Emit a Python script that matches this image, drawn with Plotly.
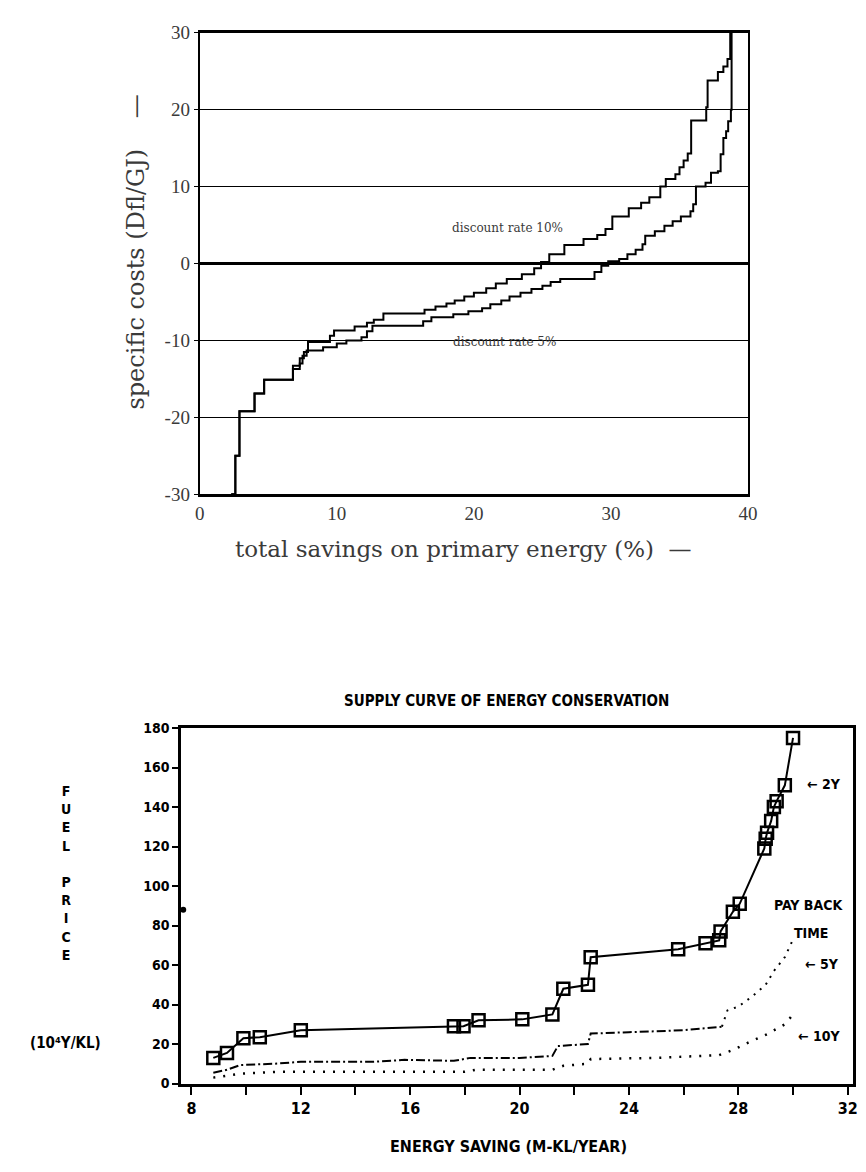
import plotly.graph_objects as go

W, H = 866, 1172
OFF = 8  # default page margin of the html body

# ---------------- top chart data ----------------
save_10 = [2.3, 2.6, 2.9, 4.0, 4.7, 6.8, 7.3, 7.6, 7.9, 9.5, 9.8, 11.3, 12.2, 12.7, 13.4,
           16.4, 17.2, 18.0, 18.6, 19.3, 20.0, 20.9, 21.6, 22.4, 23.5, 24.4, 24.9, 25.5, 26.6,
           28.0, 29.0, 29.6, 30.1, 31.3, 32.2, 32.8, 33.6, 34.0, 34.7, 35.0, 35.3, 35.6, 35.85,
           36.95, 37.05, 37.8, 38.2, 38.5, 38.7]
cost_10 = [-30, -25, -19.2, -16.9, -15.1, -13.3, -12.3, -11.5, -10.2, -9.4, -8.7, -8.2, -7.7,
           -7.3, -6.5, -6.0, -5.6, -5.2, -4.8, -4.3, -3.8, -3.2, -2.6, -2.0, -1.4, -0.6, 0.2, 1.2,
           2.4, 3.2, 3.7, 4.5, 6.1, 7.2, 7.9, 8.6, 10.0, 11.0, 11.6, 12.5, 13.4, 14.3, 18.6, 20.3,
           23.8, 24.9, 25.6, 26.6, 30.0]

save_5 = [2.3, 2.6, 2.9, 4.0, 4.7, 6.8, 7.3, 7.5, 7.8, 9.0, 10.0, 10.7, 11.8, 12.2, 12.6,
          16.3, 16.9, 18.5, 19.6, 20.6, 21.2, 22.0, 22.6, 23.4, 24.2, 25.0, 25.6, 26.3, 28.8,
          29.3, 29.8, 30.6, 31.2, 31.8, 32.3, 32.5, 33.2, 33.9, 34.5, 35.1, 35.8, 36.0, 36.2,
          36.9, 37.3, 37.8, 38.0, 38.2, 38.4, 38.55, 38.75, 38.8]
cost_5 = [-30, -25, -19.2, -16.9, -15.1, -13.7, -13.0, -12.0, -11.3, -10.9, -10.4, -10.0, -9.6,
          -8.8, -8.1, -7.5, -7.0, -6.6, -6.2, -5.8, -5.3, -4.8, -4.3, -3.8, -3.3, -2.9, -2.4,
          -2.0, -1.1, -0.3, 0.3, 0.6, 1.2, 1.8, 2.5, 3.6, 4.2, 4.9, 5.5, 6.1, 6.8, 7.7, 10.0,
          10.5, 11.8, 12.0, 14.2, 16.3, 17.2, 18.5, 20.0, 30.0]

top_xticks = [0, 10, 20, 30, 40]
top_yticks = [-30, -20, -10, 0, 10, 20, 30]
top_ylabels = ["-30", "-20", "-10", "0", "10", "20", "30"]

# ---------------- bottom chart data ----------------
es_2y = [8.8, 9.3, 9.9, 10.5, 12.0, 17.6, 17.95, 18.5, 20.1, 21.2, 21.6, 22.5, 22.6, 25.8,
         26.8, 27.3, 27.35, 27.8, 28.05, 28.95, 29.0, 29.05, 29.2, 29.3, 29.4, 29.7, 30.0]
fp_2y = [13, 15.5, 23, 23.5, 27, 29, 29, 32, 32.5, 35, 48, 50, 64, 68, 71, 72.5, 77, 87, 91,
         119, 124, 127, 133, 140, 143, 151, 175]

es_5y = [8.8, 9.3, 9.8, 11.0, 12.0, 14.6, 15.8, 17.6, 18.2, 20.0, 21.2, 21.4, 22.5, 22.6,
         24.0, 26.0, 27.4, 27.6, 28.0, 28.5, 29.0, 29.3, 29.7, 30.0]
fp_5y = [5.5, 7, 9.4, 10, 11, 11, 12, 11.5, 13, 13, 14, 19, 20, 25.3, 26, 27, 28.8, 37, 39,
         44, 50, 57, 64, 73]

es_10y = [8.8, 9.8, 11.2, 14.0, 18.0, 18.4, 21.2, 21.6, 22.5, 22.6, 25.0, 27.3, 27.8, 28.4,
          29.05, 29.7, 30.0]
fp_10y = [3, 5, 6, 6, 6, 7, 7, 9, 10, 12.4, 13, 14.4, 17, 21, 25, 30, 35]

stray_x = [7.7]
stray_y = [88]


def px(x):
    return (x - OFF) / W


def py(y):
    return 1 - (y - OFF) / H


SERIF = "DejaVu Serif"
COND = "DejaVu Sans Condensed"
GREY = "#3a3a3a"

fig = go.Figure()

# top chart curves
fig.add_trace(go.Scatter(x=save_10, y=cost_10, mode="lines", xaxis="x", yaxis="y",
                         line=dict(color="black", width=2, shape="hv"), name="10%"))
fig.add_trace(go.Scatter(x=save_5, y=cost_5, mode="lines", xaxis="x", yaxis="y",
                         line=dict(color="black", width=2, shape="hv"), name="5%"))

# bottom chart
split = next(i for i, v in enumerate(es_5y) if v >= 27.4)
fig.add_trace(go.Scatter(x=es_10y, y=fp_10y, mode="lines", xaxis="x2", yaxis="y2",
                         line=dict(color="black", width=2.5, dash="2px,8px")))
fig.add_trace(go.Scatter(x=es_5y[:split + 1], y=fp_5y[:split + 1], mode="lines",
                         xaxis="x2", yaxis="y2",
                         line=dict(color="black", width=2, dash="9px,3px,2px,3px")))
fig.add_trace(go.Scatter(x=es_5y[split:], y=fp_5y[split:], mode="lines",
                         xaxis="x2", yaxis="y2",
                         line=dict(color="black", width=2, dash="2px,6px")))
fig.add_trace(go.Scatter(x=es_2y, y=fp_2y, mode="lines+markers", xaxis="x2", yaxis="y2",
                         line=dict(color="black", width=2),
                         marker=dict(symbol="square-open", size=12, color="black",
                                     line=dict(width=2.5, color="black"))))
fig.add_trace(go.Scatter(x=stray_x, y=stray_y, mode="markers", xaxis="x2", yaxis="y2",
                         cliponaxis=False, marker=dict(size=6, color="black")))

fig.update_layout(
    width=W, height=H, margin=dict(l=0, r=0, t=0, b=0),
    paper_bgcolor="white", plot_bgcolor="white", showlegend=False,
    xaxis=dict(domain=[px(198), px(756)], range=[0, 40], anchor="y",
               tickvals=top_xticks, ticks="", showgrid=False, zeroline=False,
               showline=True, mirror=True, linewidth=3, linecolor="black",
               tickfont=dict(family="Liberation Serif", size=19, color=GREY)),
    yaxis=dict(domain=[py(493), py(23)], range=[-30, 30], anchor="x",
               tickvals=top_yticks, ticktext=top_ylabels, ticks="outside", ticklen=4,
               tickcolor="black", showgrid=True, gridcolor="black", gridwidth=1.3,
               zeroline=True, zerolinecolor="black", zerolinewidth=3,
               showline=True, mirror=True, linewidth=2, linecolor="black",
               tickfont=dict(family="Liberation Serif", size=19, color=GREY)),
    xaxis2=dict(domain=[px(179), px(863)], range=[7.62, 32.2], anchor="y2",
                tick0=8, dtick=4, ticks="outside", ticklen=8, tickwidth=2, tickcolor="black",
                minor=dict(tick0=8, dtick=2, ticks="outside", ticklen=8, tickwidth=2,
                           tickcolor="black"),
                showgrid=False, zeroline=False, showline=True, mirror=True, linewidth=3,
                linecolor="black",
                tickfont=dict(family=COND, size=16, color="black", weight="bold")),
    yaxis2=dict(domain=[py(1093), py(731)], range=[0, 180], anchor="x2",
                tick0=0, dtick=20, ticks="outside", ticklen=6, tickwidth=2, tickcolor="black",
                showgrid=False, zeroline=False, showline=True, mirror=True, linewidth=2.5,
                linecolor="black",
                tickfont=dict(family=COND, size=14, color="black", weight="bold")),
)


def note(text, x, y, size, family, color="black", angle=0, bold=False):
    fig.add_annotation(text=text, x=px(x), y=py(y), xref="paper", yref="paper",
                       xanchor="center", yanchor="middle", showarrow=False,
                       textangle=angle,
                       font=dict(family=family, size=size, color=color,
                                 weight="bold" if bold else "normal"))


# top chart texts
note("discount rate 10%", 511, 222, 12, SERIF, GREY)
note("discount rate 5%", 508, 338, 12, SERIF, GREY)
note("specific costs (Dfl/GJ)    —", 133, 246, 24, SERIF, GREY, angle=-90)
note("total savings on primary energy (%)  —", 466, 549, 23, SERIF, GREY)

# bottom chart texts
note("SUPPLY CURVE OF ENERGY CONSERVATION", 510, 703, 15, COND, bold=True)
note("ENERGY SAVING (M-KL/YEAR)", 512, 1157, 16, COND, bold=True)
note("F<br>U<br>E<br>L<br> <br>P<br>R<br>I<br>C<br>E", 62, 879, 14, COND, bold=True)
note("(10⁴Y/KL)", 61, 1052, 15, COND, bold=True)
note("← 2Y", 833, 788, 14, COND, bold=True)
note("PAY BACK", 818, 911, 14, COND, bold=True)
note("TIME", 820, 940, 14, COND, bold=True)
note("← 5Y", 831, 971, 14, COND, bold=True)
note("← 10Y", 828, 1045, 14, COND, bold=True)

fig.write_html("out.html")
